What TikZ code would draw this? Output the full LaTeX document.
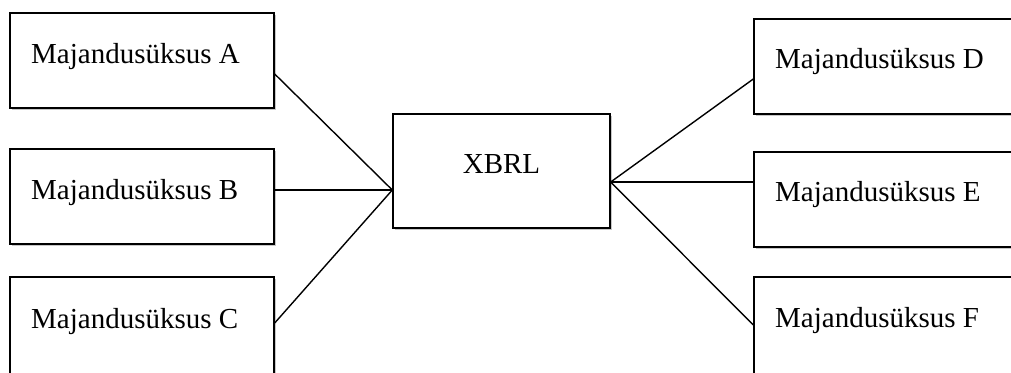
\documentclass[tikz,border=0pt]{standalone}
\usepackage{fontspec}
\setmainfont{Liberation Serif}
\usetikzlibrary{shadows}
\begin{document}
\begin{tikzpicture}[x=1pt,y=1pt,
  box/.style={draw=black,line width=1.4pt,fill=white,rectangle,inner sep=0pt,
    drop shadow={shadow xshift=1.5pt,shadow yshift=-2.5pt,fill=black,opacity=0.22}},
  lbl/.style={anchor=base west,inner sep=0pt,font=\fontsize{29}{34}\selectfont},
  conn/.style={line width=1.4pt,draw=black}]
\useasboundingbox (0,0) rectangle (1011,372);
\clip (0,0) rectangle (1011,372);
% left boxes
\node[box,minimum width=264pt,minimum height=95pt] (A) at (142,311.5) {};
\node[box,minimum width=264pt,minimum height=95pt] (B) at (142,175.5) {};
\node[box,minimum width=264pt,minimum height=105pt] (C) at (142,42.5) {};
% centre
\node[box,minimum width=217pt,minimum height=114pt] (X) at (501.5,201) {};
% right boxes
\node[box,minimum width=270pt,minimum height=95pt] (D) at (889,305.5) {};
\node[box,minimum width=270pt,minimum height=95pt] (E) at (889,172.5) {};
\node[box,minimum width=270pt,minimum height=105pt] (F) at (889,42.5) {};
% labels
\node[lbl] (tA) at (31,308) {Majandusüksus A};
\node[lbl] (tB) at (31,172.5) {Majandusüksus B};
\node[lbl] (tC) at (31,44) {Majandusüksus C};
\node[lbl,anchor=base] (tX) at (501.5,198) {XBRL};
\node[lbl] (tD) at (775,303) {Majandusüksus D};
\node[lbl] (tE) at (775,170) {Majandusüksus E};
\node[lbl] (tF) at (775,45) {Majandusüksus F};
% connection points
\coordinate (pA) at (A.east |- 0,298);
\coordinate (pB) at (B.east |- 0,182);
\coordinate (pC) at (C.east |- 0,49);
\coordinate (xl) at (X.west |- 0,182);
\coordinate (xr) at (X.east |- 0,190);
\coordinate (pD) at (D.west |- 0,293);
\coordinate (pE) at (E.west |- 0,190);
\coordinate (pF) at (F.west |- 0,47);
\draw[conn] (pA) -- (xl);
\draw[conn] (pB) -- (xl);
\draw[conn] (pC) -- (xl);
\draw[conn] (xr) -- (pD);
\draw[conn] (xr) -- (pE);
\draw[conn] (xr) -- (pF);
\end{tikzpicture}
\end{document}
